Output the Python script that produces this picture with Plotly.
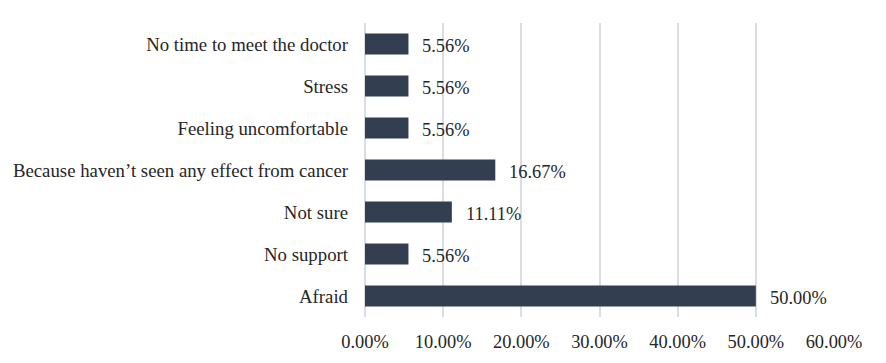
import plotly.graph_objects as go

categories = ["Afraid", "No support", "Not sure", "Because haven\u2019t seen any effect from cancer",
              "Feeling uncomfortable", "Stress", "No time to meet the doctor"]
values = [0.50, 0.0556, 0.1111, 0.1667, 0.0556, 0.0556, 0.0556]
tick_vals = [0, 0.1, 0.2, 0.3, 0.4, 0.5, 0.6]
tick_text = ["0.00%", "10.00%", "20.00%", "30.00%", "40.00%", "50.00%", "60.00%"]

font_family = "Liberation Serif"
font_size = 18.4
text_color = "#262626"

fig = go.Figure()
fig.add_trace(go.Bar(
    y=categories, x=values, orientation="h",
    marker=dict(color="#333F50", line=dict(width=0)),
    hoverinfo="skip",
))
for c, v in zip(categories, values):
    fig.add_annotation(x=v, y=c, text=f"{v*100:.2f}%", showarrow=False,
                       xanchor="left", yanchor="middle", xshift=12, yshift=-2,
                       font=dict(family=font_family, size=font_size, color=text_color))

# page body has an 8px margin, so the figure is 8px smaller and margins are offset
fig.update_layout(
    width=878, height=355,
    margin=dict(l=357, r=52, t=15, b=46, autoexpand=False),
    plot_bgcolor="white", paper_bgcolor="white",
    bargap=0.5,
    showlegend=False,
    font=dict(family=font_family, size=font_size, color=text_color),
)
fig.update_xaxes(range=[0, 0.6], tickvals=tick_vals, ticktext=tick_text,
                 showgrid=True, gridcolor="#DADDE2", gridwidth=1.8,
                 zeroline=True, zerolinecolor="#DADDE2", zerolinewidth=1.8,
                 showline=False, ticklabelstandoff=12, fixedrange=True)
fig.update_yaxes(showgrid=False, showline=False, ticklabelstandoff=16,
                 tickfont=dict(size=18.8),
                 categoryorder="array", categoryarray=categories)
fig.write_html("out.html")
